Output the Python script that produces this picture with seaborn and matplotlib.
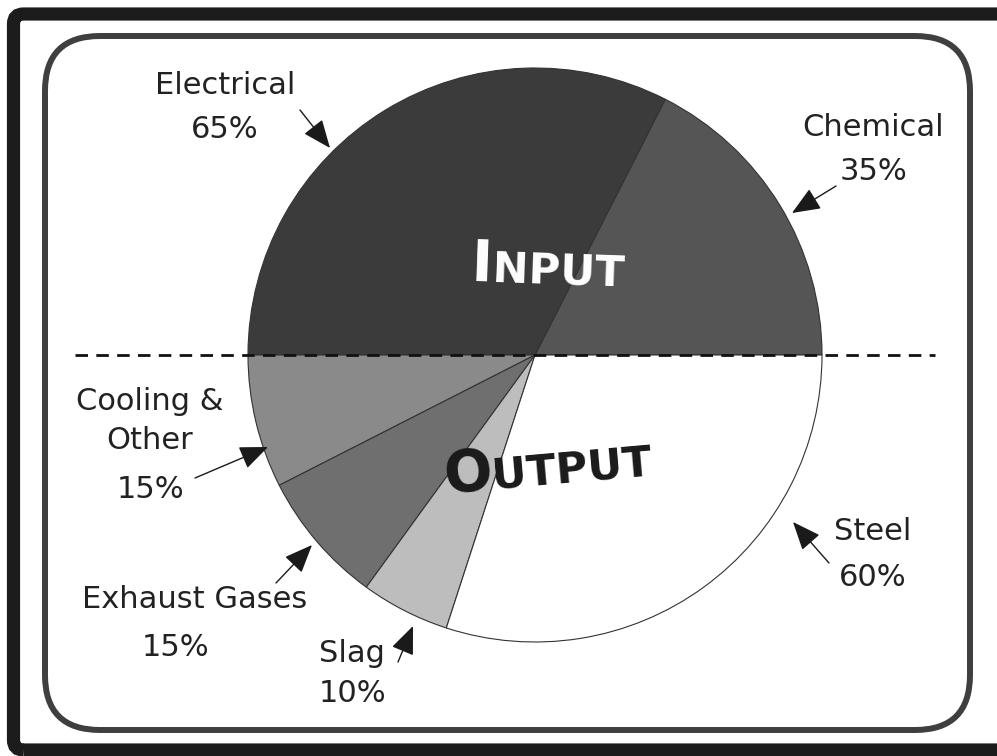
import matplotlib.pyplot as plt
import seaborn as sns
from matplotlib.patches import FancyBboxPatch

sns.set_style("white")
plt.rcParams['font.family'] = ['DejaVu Sans']

# energy balance: top half = input, bottom half = output (percent of each half)
flows = ["Chemical", "Electrical", "Cooling &\nOther", "Exhaust Gases", "Slag", "Steel"]
shares = [35, 65, 15, 15, 10, 60]
shades = ["#555555", "#3b3b3b", "#8a8a8a", "#6f6f6f", "#bdbdbd", "#ffffff"]

W, H = 997, 756


def P(x, y):
    # pixel coords (y down) -> data coords (y up)
    return (x, H - y)


fig = plt.figure(figsize=(9.97, 7.56), dpi=100)
ax = fig.add_axes([0, 0, 1, 1])

ax.pie(shares, colors=shades, startangle=0, counterclock=True,
       center=P(535, 355), radius=287, frame=True,
       wedgeprops=dict(edgecolor='#333333', linewidth=0.8))
ax.set_xlim(0, W)
ax.set_ylim(0, H)
ax.set_aspect('equal')
ax.axis('off')

# frames
outer = FancyBboxPatch((13.5, H - 750), 1010, 736,
                       boxstyle="round,pad=0,rounding_size=10",
                       fill=False, edgecolor='#1c1c1c', linewidth=9.5)
ax.add_patch(outer)
inner = FancyBboxPatch((45, H - 730), 925, 694,
                       boxstyle="round,pad=0,rounding_size=55",
                       fill=False, edgecolor='#3f3f3f', linewidth=4.3)
ax.add_patch(inner)

# divider between input and output
ax.plot([75, 935], [H - 355, H - 355], ls=(0, (4.5, 3)), color='#111111', lw=2, zorder=5)

# labels: (name position, pct position, arrow tail, arrow head)
layout = {
    "Electrical": ((225, 85), (225, 130), (300, 110), (330, 148)),
    "Chemical": ((873, 128), (873, 172), (836, 186), (792, 213)),
    "Cooling &\nOther": ((150, 421), (150, 490), (195, 478), (268, 447)),
    "Exhaust Gases": ((195, 600), (175, 648), (276, 583), (312, 545)),
    "Slag": ((352, 653), (352, 693), (398, 662), (413, 626)),
    "Steel": ((873, 532), (873, 578), (829, 563), (793, 522)),
}
for name, pct in zip(flows, shares):
    npos, ppos, tail, head = layout[name]
    ax.text(*P(*npos), name, ha='center', va='center', fontsize=22,
            color='#222222', linespacing=1.45)
    ax.text(*P(*ppos), f"{pct}%", ha='center', va='center', fontsize=22, color='#222222')
    ax.annotate('', xy=P(*head), xytext=P(*tail),
                arrowprops=dict(arrowstyle='-|>,head_length=0.8,head_width=0.33',
                                mutation_scale=22, color='#1a1a1a', lw=1,
                                shrinkA=0, shrinkB=0))

# small-caps style titles
ax.text(*P(492, 282), "I", ha='right', va='baseline', fontsize=41, fontweight='bold',
        color='white', rotation=-2, rotation_mode='anchor', zorder=6)
ax.text(*P(492, 282), "NPUT", ha='left', va='baseline', fontsize=31, fontweight='bold',
        color='white', rotation=-2, rotation_mode='anchor', zorder=6)
ax.text(*P(493, 489), "O", ha='right', va='baseline', fontsize=41, fontweight='bold',
        color='#1a1a1a', rotation=5, rotation_mode='anchor', zorder=6)
ax.text(*P(493, 489), "UTPUT", ha='left', va='baseline', fontsize=31, fontweight='bold',
        color='#1a1a1a', rotation=5, rotation_mode='anchor', zorder=6)

fig.savefig("out.png", dpi=100)
